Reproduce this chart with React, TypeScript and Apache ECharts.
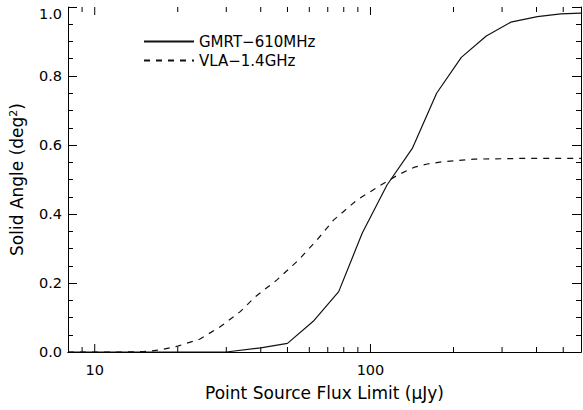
import React, { useEffect, useRef } from "react";
import * as echarts from "echarts";

const gmrtFlux = [8, 20, 30, 40, 50, 62, 76.7, 93.3, 114.8, 141.8, 173.7, 213.5, 263, 322.6, 403, 490, 580];
const gmrtArea = [0, 0, 0, 0.012, 0.025, 0.089, 0.175, 0.344, 0.484, 0.59, 0.75, 0.854, 0.916, 0.956, 0.972, 0.98, 0.982];

const vlaFlux = [8, 13, 15, 17.3, 20, 24, 28.5, 33.7, 38.2, 45.8, 54.9, 64, 73.6, 89.5, 108.7, 125, 143.6, 160.7, 184.5, 237, 350, 580];
const vlaArea = [0, 0, 0.001, 0.006, 0.017, 0.037, 0.073, 0.117, 0.16, 0.209, 0.267, 0.325, 0.383, 0.441, 0.483, 0.512, 0.535, 0.545, 0.552, 0.559, 0.561, 0.561];

const xMajorTicks = [10, 100];
const xMinorTicks = [9, 20, 30, 40, 50, 60, 70, 80, 90, 200, 300, 400, 500];
const xMin = 8;
const xMax = 580;
const yTicks = [0, 0.2, 0.4, 0.6, 0.8, 1.0];

const FONT = "DejaVu Sans";
const INK = "#000";

export default function App() {
  const ref = useRef<HTMLDivElement>(null);
  useEffect(() => {
    if (!ref.current) return;
    const chart = echarts.init(ref.current, null, { renderer: "svg" });
    const tickData = [
      ...xMajorTicks.map((v) => [v, 0, 1]),
      ...xMinorTicks.map((v) => [v, 0, 0]),
    ];
    const yAxisBase = {
      type: "value",
      min: yTicks[0],
      max: yTicks[yTicks.length - 1],
      interval: 0.2,
      axisLine: { show: true, lineStyle: { color: INK, width: 1 } },
      axisTick: { show: true, inside: true, length: 9, lineStyle: { color: INK } },
      minorTick: { show: true, splitNumber: 4, length: 5, lineStyle: { color: INK } },
      splitLine: { show: false },
      minorSplitLine: { show: false },
    };
    chart.setOption({
      animation: false,
      backgroundColor: "#fff",
      grid: { left: 68, right: 2, top: 7, bottom: 58, containLabel: false },
      legend: {
        data: ["GMRT\u2212610MHz", "VLA\u22121.4GHz"],
        orient: "vertical",
        left: 143,
        top: 34,
        padding: 0,
        itemWidth: 50,
        itemHeight: 14,
        itemGap: 4,
        itemStyle: { opacity: 0 },
        textStyle: { fontFamily: FONT, fontSize: 15, color: INK },
      },
      xAxis: [
        {
          type: "log",
          logBase: 10,
          min: xMin,
          max: xMax,
          position: "bottom",
          name: "Point Source Flux Limit (\u03bcJy)",
          nameLocation: "middle",
          nameGap: 32,
          nameTextStyle: { fontFamily: FONT, fontSize: 17, color: INK },
          axisLine: { show: true, lineStyle: { color: INK, width: 1 } },
          axisTick: { show: false },
          minorTick: { show: false },
          splitLine: { show: false },
          axisLabel: {
            fontFamily: FONT,
            fontSize: 14.5,
            color: INK,
            margin: 10,
            showMinLabel: false,
            showMaxLabel: false,
            formatter: (v: number) => {
              const r = Math.round(v);
              return xMajorTicks.includes(r) && Math.abs(v - r) < 1e-6 ? String(r) : "";
            },
          },
        },
        {
          type: "log",
          logBase: 10,
          min: xMin,
          max: xMax,
          position: "top",
          axisLine: { show: true, lineStyle: { color: INK, width: 1 } },
          axisTick: { show: false },
          axisLabel: { show: false },
          splitLine: { show: false },
        },
      ],
      yAxis: [
        {
          ...yAxisBase,
          position: "left",
          name: "{a|Solid Angle (deg}{s|2}{a|)}",
          nameLocation: "middle",
          nameGap: 42,
          nameRotate: 90,
          nameTextStyle: {
            color: INK,
            rich: {
              a: { fontFamily: FONT, fontSize: 17, color: INK },
              s: { fontFamily: FONT, fontSize: 11, color: INK, verticalAlign: "top", padding: [0, 0, 7, 0] },
            },
          },
          axisLabel: {
            fontFamily: FONT,
            fontSize: 14.5,
            color: INK,
            margin: 6,
            formatter: (v: number) => (v >= 0.999 ? "{t|" + v.toFixed(1) + "}" : v.toFixed(1)),
            rich: {
              t: { fontFamily: FONT, fontSize: 14.5, color: INK, padding: [13, 0, 0, 0] },
            },
          },
        },
        {
          ...yAxisBase,
          position: "right",
          axisLabel: { show: false },
        },
      ],
      series: [
        {
          name: "GMRT\u2212610MHz",
          type: "line",
          xAxisIndex: 0,
          yAxisIndex: 0,
          symbol: "none",
          data: gmrtFlux.map((x, i) => [x, gmrtArea[i]]),
          lineStyle: { color: "#111", width: 1.2, type: "solid" },
          itemStyle: { color: "#111" },
          clip: true,
        },
        {
          name: "VLA\u22121.4GHz",
          type: "line",
          xAxisIndex: 0,
          yAxisIndex: 0,
          symbol: "none",
          data: vlaFlux.map((x, i) => [x, vlaArea[i]]),
          lineStyle: { color: "#111", width: 1.2, type: [6, 6] },
          itemStyle: { color: "#111" },
          clip: true,
        },
        {
          name: "xticks",
          type: "custom",
          xAxisIndex: 0,
          yAxisIndex: 0,
          silent: true,
          clip: false,
          data: tickData,
          renderItem: (_params: any, api: any) => {
            const v = api.value(0);
            const major = api.value(2) === 1;
            const len = major ? 8 : 5;
            const b = api.coord([v, 0]);
            const t = api.coord([v, 1]);
            const style = { stroke: INK, lineWidth: 1 };
            return {
              type: "group",
              children: [
                { type: "line", shape: { x1: b[0], y1: b[1], x2: b[0], y2: b[1] - len }, style },
                { type: "line", shape: { x1: t[0], y1: t[1], x2: t[0], y2: t[1] + len }, style },
              ],
            };
          },
        },
      ],
    });
    return () => chart.dispose();
  }, []);
  return (
    <div
      ref={ref}
      style={{ position: "fixed", left: 0, top: 0, width: 583, height: 410, background: "#fff" }}
    />
  );
}
